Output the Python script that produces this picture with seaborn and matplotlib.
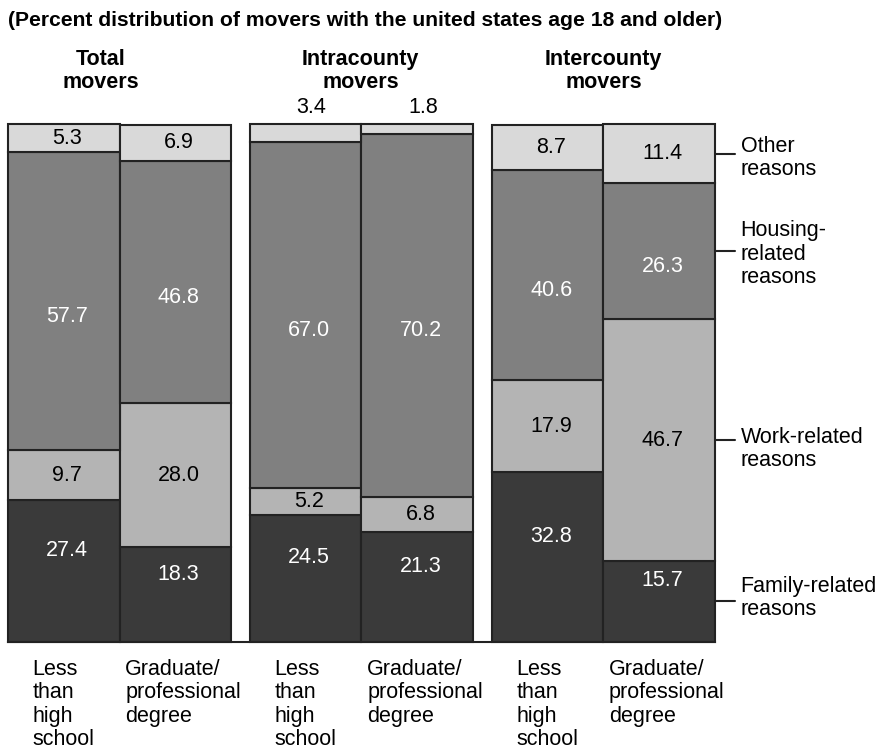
import matplotlib
matplotlib.use("Agg")
import matplotlib.pyplot as plt
import seaborn as sns
import pandas as pd
import numpy as np

groups = ["Total\nmovers", "Intracounty\nmovers", "Intercounty\nmovers"]
education = ["Less\nthan\nhigh\nschool", "Graduate/\nprofessional\ndegree"]
reasons = ["Family-related\nreasons", "Work-related\nreasons",
           "Housing-\nrelated\nreasons", "Other\nreasons"]

# one value per bar: total-less, total-grad, intra-less, intra-grad, inter-less, inter-grad
family = [27.4, 18.3, 24.5, 21.3, 32.8, 15.7]
work = [9.7, 28.0, 5.2, 6.8, 17.9, 46.7]
housing = [57.7, 46.8, 67.0, 70.2, 40.6, 26.3]
other = [5.3, 6.9, 3.4, 1.8, 8.7, 11.4]

colors = ["#3a3a3a", "#b4b4b4", "#808080", "#d9d9d9"]
text_colors = ["white", "black", "white", "black"]
label_shift = [4, 0, -3, 0]

sns.set_theme(style="white")
plt.rcParams["font.family"] = ["Liberation Sans", "DejaVu Sans"]
plt.rcParams["text.color"] = "black"

FS = 15.5

fig = plt.figure(figsize=(8.79, 7.51), dpi=100)
ax = fig.add_axes([8 / 879, 1 - 642 / 751, 707 / 879, 517 / 751])

gap = 0.17
pos = []
for g in range(3):
    for b in range(2):
        pos.append(g * (2 + gap) + b + 0.5)
pos = np.array(pos)

layers = [family, work, housing, other]
bottom = np.zeros(6)
for k, vals in enumerate(layers):
    vals = np.array(vals)
    df = pd.DataFrame({"x": pos, "y": vals})
    sns.barplot(data=df, x="x", y="y", native_scale=True, width=1,
                color=colors[k], saturation=1, edgecolor="#222222",
                linewidth=1.5, bottom=bottom, ax=ax, clip_on=False)
    for i in range(6):
        v = vals[i]
        if v < 4:
            # too thin, put the number above the bar
            ax.text(pos[i] + 0.05, bottom[i] + v + 3.3, f"{v:.1f}", ha="center",
                    va="center", fontsize=FS, color="black")
        else:
            ax.text(pos[i] + 0.03, bottom[i] + v / 2 + label_shift[k], f"{v:.1f}",
                    ha="center", va="center", fontsize=FS, color=text_colors[k])
    bottom = bottom + vals

ax.set_xlim(0, 6 + 2 * gap)
ax.set_ylim(0, 100)
ax.set_xlabel("")
ax.set_ylabel("")
ax.set_xticks([])
ax.set_yticks([])
for s in ["top", "left", "right"]:
    ax.spines[s].set_visible(False)
ax.spines["bottom"].set_color("#222222")
ax.spines["bottom"].set_linewidth(1.5)

# group headers
head_x = [0.83, 3.16, 5.34]
for g in range(3):
    ax.text(head_x[g], 110.5, groups[g], ha="center", va="center",
            fontsize=FS, fontweight="bold", linespacing=1.15)

# category labels under bars
for i in range(6):
    left = pos[i] - 0.5
    off = 0.22 if i % 2 == 0 else 0.05
    ax.text(left + off, -3.3, education[i % 2], ha="left", va="top",
            fontsize=FS, linespacing=1.15)

# legend on the right pointing at the last bar
right = 6 + 2 * gap
cum = 0
text_y = [8.5, 37.3, 75.0, 93.6]
for k, vals in enumerate(layers):
    mid = cum + vals[5] / 2
    ax.plot([right, right + 0.18], [mid, mid], color="#222222", lw=1.5,
            clip_on=False)
    ax.text(right + 0.23, text_y[k], reasons[k], ha="left", va="center",
            fontsize=FS, linespacing=1.15)
    cum += vals[5]

fig.text(8 / 879, 1 - 20 / 751,
         "(Percent distribution of movers with the united states age 18 and older)",
         ha="left", va="center", fontsize=15.2, fontweight="bold")

fig.savefig("out.png", dpi=100)
